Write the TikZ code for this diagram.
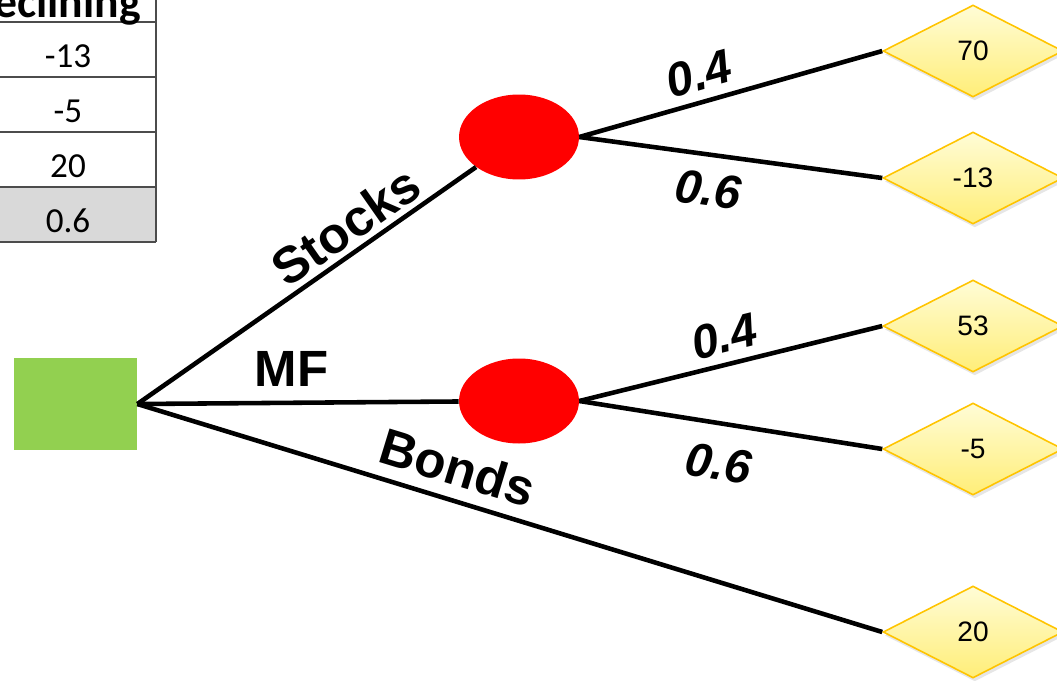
\documentclass[tikz,border=0pt]{standalone}
\usepackage{fontspec}
\setmainfont{Liberation Sans}
\newfontfamily\cellfont{Carlito}
\usetikzlibrary{shapes.geometric,shadows}
\definecolor{leafline}{RGB}{255,196,0}
\definecolor{leaftop}{RGB}{255,252,214}
\definecolor{leafbot}{RGB}{255,238,120}
\definecolor{decgreen}{RGB}{146,208,80}
\definecolor{cellgray}{RGB}{217,217,217}

\begin{document}
\begin{tikzpicture}[x=0.02cm,y=-0.02cm,
  branch/.style={line width=2.6pt},
  choice/.style={font=\fontsize{29}{29}\selectfont\bfseries},
  prob/.style={font=\fontsize{27}{27}\selectfont\bfseries\itshape},
  leaf/.style={diamond, draw=leafline, line width=0.9pt, top color=leaftop, bottom color=leafbot,
    minimum width=3.6cm, minimum height=1.84cm, inner sep=0pt, font=\fontsize{16}{16}\selectfont,
    drop shadow={opacity=0.2, shadow xshift=1pt, shadow yshift=-2pt}},
  chance/.style={ellipse, fill=red, minimum width=2.4cm, minimum height=1.7cm, inner sep=0pt},
  cell/.style={font=\cellfont\fontsize{20}{20}\selectfont, anchor=base}]
  \useasboundingbox (0,0) rectangle (1057,680);
  \clip (0,0) rectangle (1057,680);
  \fill[cellgray] (0,187) rectangle (156,242);
  \foreach \y in {22,77,132,187,242}
    \draw[black!70, line width=0.7pt] (0,\y) -- (156,\y);
  \draw[black!70, line width=0.7pt] (156,0) -- (156,242);
  \node[cell, font=\cellfont\bfseries\fontsize{26}{26}\selectfont, anchor=base east] (hd) at (147,17) {Declining};
  \node[cell] (c1) at (68,67) {-13};
  \node[cell] (c2) at (68,122) {-5};
  \node[cell] (c3) at (68,177) {20};
  \node[cell] (c4) at (68,232) {0.6};

  \node[fill=decgreen, minimum width=2.46cm, minimum height=1.84cm, inner sep=0pt] (dec) at (75.5,404) {};
  \node[chance] (stk) at (519,137) {};
  \node[chance] (mf) at (519,401) {};
  \node[leaf] (s1) at (973,51) {70};
  \node[leaf] (s2) at (973,178) {-13};
  \node[leaf] (m1) at (973,326) {53};
  \node[leaf] (m2) at (973,449) {-5};
  \node[leaf] (b1) at (973,632) {20};

  \draw[branch] (dec.east) -- (stk) node[choice, pos=0.66, sloped, anchor=south, inner sep=3pt] (lstk) {Stocks};
  \draw[branch] (dec.east) -- (mf) node[choice, pos=0.48, anchor=south, inner sep=8pt] (lmf) {MF};
  \draw[branch] (dec.east) -- (b1.west) node[choice, pos=0.417, sloped, anchor=south, inner sep=7pt] (lbd) {Bonds};
  \draw[branch] (stk.east) -- (s1.west) node[prob, pos=0.42, sloped, anchor=south, inner sep=5pt] (p1) {0.4};
  \draw[branch] (stk.east) -- (s2.west) node[prob, pos=0.44, sloped, anchor=north, inner sep=9pt] (p2) {0.6};
  \draw[branch] (mf.east) -- (m1.west) node[prob, pos=0.5, sloped, anchor=south, inner sep=5pt] (p3) {0.4};
  \draw[branch] (mf.east) -- (m2.west) node[prob, pos=0.48, sloped, anchor=north, inner sep=12pt] (p4) {0.6};
\end{tikzpicture}
\end{document}
